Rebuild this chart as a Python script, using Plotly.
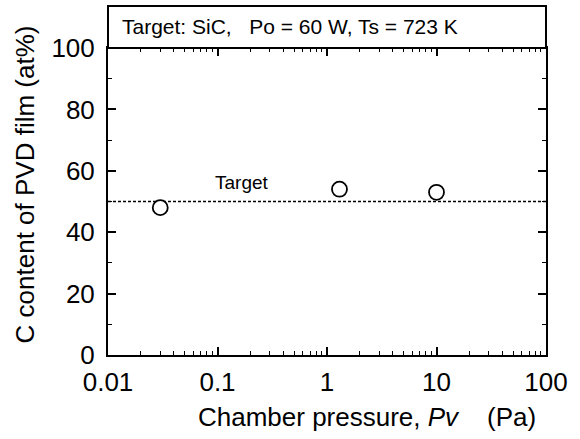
import plotly.graph_objects as go

# Data
pressure_pa = [0.03, 1.3, 10]
c_content_at = [48, 54, 53]
target_x = [0.01, 100]
target_y = [50, 50]

x_tickvals = [0.01, 0.1, 1, 10, 100]
x_ticktext = ["0.01", "0.1", "1", "10", "100"]
y_tickvals = [0, 20, 40, 60, 80, 100]
y_ticktext = ["0", "20", "40", "60", "80", "100"]

x_minor = [m * d for d in [0.01, 0.1, 1, 10] for m in range(2, 10)]
y_minor = [10, 30, 50, 70, 90]

FONT = "Liberation Sans, Arial, Helvetica, sans-serif"

fig = go.Figure()

fig.add_trace(go.Scatter(
    x=target_x, y=target_y, mode="lines",
    line=dict(color="black", width=1.6, dash="3px,2px"),
    hoverinfo="skip", showlegend=False,
))
fig.add_trace(go.Scatter(
    x=pressure_pa, y=c_content_at, mode="markers",
    marker=dict(symbol="circle", size=15, color="white",
                line=dict(color="black", width=1.8)),
    showlegend=False,
))

axis_common = dict(
    showline=True, linecolor="black", linewidth=2, mirror="ticks",
    ticks="inside", ticklen=8, tickwidth=1.5, tickcolor="black",
    showgrid=False, zeroline=False,
    tickfont=dict(family=FONT, size=26, color="black"),
)

fig.update_xaxes(
    type="log", range=[-2, 2],
    tickmode="array", tickvals=x_tickvals, ticktext=x_ticktext,
    minor=dict(ticks="inside", ticklen=4, tickwidth=1.2, tickcolor="black",
               tickmode="array", tickvals=x_minor, showgrid=False),
    ticklabelstandoff=3,
    **axis_common,
)
fig.update_yaxes(
    range=[0, 100],
    tickmode="array", tickvals=y_tickvals, ticktext=y_ticktext,
    minor=dict(ticks="inside", ticklen=4, tickwidth=1.2, tickcolor="black",
               tickmode="array", tickvals=y_minor, showgrid=False),
    ticklabelstandoff=6,
    **axis_common,
)

# Title box above the plotting area
box_top = 1 + (48 - 6) / 307
fig.add_shape(type="rect", xref="paper", yref="paper",
              x0=0, x1=1, y0=1, y1=box_top,
              line=dict(color="black", width=2), fillcolor="white", layer="above")
fig.add_annotation(xref="paper", yref="paper", x=0.027, y=(1 + box_top) / 2,
                   xanchor="left", yanchor="middle", showarrow=False,
                   text="Target: SiC,&nbsp;&nbsp; Po = 60 W, Ts = 723 K",
                   font=dict(family=FONT, size=21, color="black"))

# Target label
fig.add_annotation(x=-0.78, y=50, xref="x", yref="y", xanchor="center",
                   yanchor="bottom", yshift=7, showarrow=False, text="Target",
                   font=dict(family=FONT, size=19, color="black"))

# Axis titles
fig.add_annotation(xref="paper", yref="paper", x=0.592, y=-0.202,
                   xanchor="center", yanchor="middle", showarrow=False,
                   text="Chamber pressure, <i>Pv</i>&nbsp;&nbsp;&nbsp; (Pa)",
                   font=dict(family=FONT, size=26, color="black"))
fig.add_annotation(xref="paper", yref="paper", x=-0.19, y=0.555,
                   xanchor="center", yanchor="middle", showarrow=False,
                   textangle=-90,
                   text="C content of PVD film (at%)",
                   font=dict(family=FONT, size=26, color="black"))

fig.update_layout(
    width=580, height=439,
    margin=dict(l=108, r=24, t=48, b=84),
    paper_bgcolor="white", plot_bgcolor="white",
    font=dict(family=FONT, color="black"),
)

fig.write_html("out.html")
